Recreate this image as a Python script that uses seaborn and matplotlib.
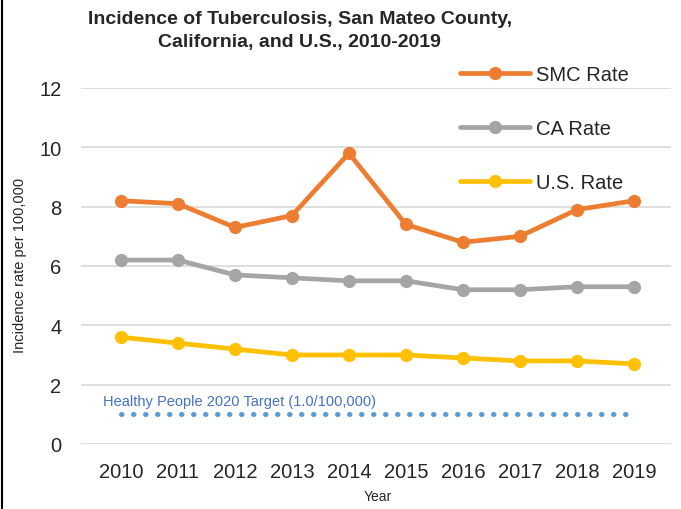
import pandas as pd
import matplotlib
matplotlib.use("Agg")
import matplotlib.pyplot as plt
from matplotlib.lines import Line2D
import seaborn as sns

# ── data ─────────────────────────────────────
years = [2010, 2011, 2012, 2013, 2014, 2015, 2016, 2017, 2018, 2019]
smc_rate = [8.2, 8.1, 7.3, 7.7, 9.8, 7.4, 6.8, 7.0, 7.9, 8.2]
ca_rate = [6.2, 6.2, 5.7, 5.6, 5.5, 5.5, 5.2, 5.2, 5.3, 5.3]
us_rate = [3.6, 3.4, 3.2, 3.0, 3.0, 3.0, 2.9, 2.8, 2.8, 2.7]
target = 1.0
y_ticks = [0, 2, 4, 6, 8, 10, 12]

series = [
    ("SMC Rate", smc_rate, "#ED7D31"),
    ("CA Rate", ca_rate, "#A5A5A5"),
    ("U.S. Rate", us_rate, "#FFC000"),
]

sns.set_style("white")
plt.rcParams["font.family"] = ["Liberation Sans", "DejaVu Sans"]

fig = plt.figure(figsize=(6.81, 5.10), dpi=100)
ax = fig.add_axes([81 / 681, 1 - 445 / 510, 590 / 681, 356 / 510])

for y in y_ticks:
    ax.axhline(y, color="#D9D9D9", lw=1.2, zorder=0)

for name, vals, color in series:
    df = pd.DataFrame({"Year": years, "Rate": vals})
    sns.lineplot(data=df, x="Year", y="Rate", ax=ax, color=color, lw=3.4,
                 marker="o", markersize=9.5, markeredgewidth=0, label=name)

# Healthy People 2020 target
tdf = pd.DataFrame({"Year": years, "Rate": [target] * len(years)})
sns.lineplot(data=tdf, x="Year", y="Rate", ax=ax, color="#5B9BD5", lw=3.6,
             ls=(0, (0.1, 2.3)), legend=False)
ax.lines[-1].set_dash_capstyle("round")
ax.text(years[0] - 0.31, target + 0.45, "Healthy People 2020 Target (1.0/100,000)",
        color="#4472C4", fontsize=10.5, va="center", ha="left")

ax.set_xlim(years[0] - 0.7, years[-1] + 0.65)
ax.set_ylim(0, 12)
ax.set_xticks(years)
ax.set_yticks(y_ticks)
ax.tick_params(axis="both", labelsize=14.5, length=0)
ax.tick_params(axis="x", pad=13)
ax.tick_params(axis="y", pad=14)
for s in ax.spines.values():
    s.set_visible(False)

ax.set_xlabel("")
ax.set_ylabel("")
fig.text(378 / 681, 1 - 497 / 510, "Year", fontsize=10, ha="center", va="center")
fig.text(20 / 681, 1 - 265 / 510, "Incidence rate per 100,000", fontsize=10.5,
         rotation=90, ha="center", va="center")

fig.suptitle("Incidence of Tuberculosis, San Mateo County,\nCalifornia, and U.S., 2010-2019",
             fontsize=14, fontweight="bold", x=0.44, y=0.978, va="top",
             linespacing=1.45)

ax.legend(loc="upper left", bbox_to_anchor=(460 / 681, 1 - 66 / 510),
          bbox_transform=fig.transFigure, frameon=False, fontsize=14.5,
          handlelength=3.5, handletextpad=0.25, labelspacing=1.75,
          borderaxespad=0, borderpad=0)

# left border of the chart box
fig.add_artist(Line2D([0.003, 0.003], [0, 1], color="black", lw=1.5))

fig.savefig("out.png", dpi=100)
plt.close(fig)
